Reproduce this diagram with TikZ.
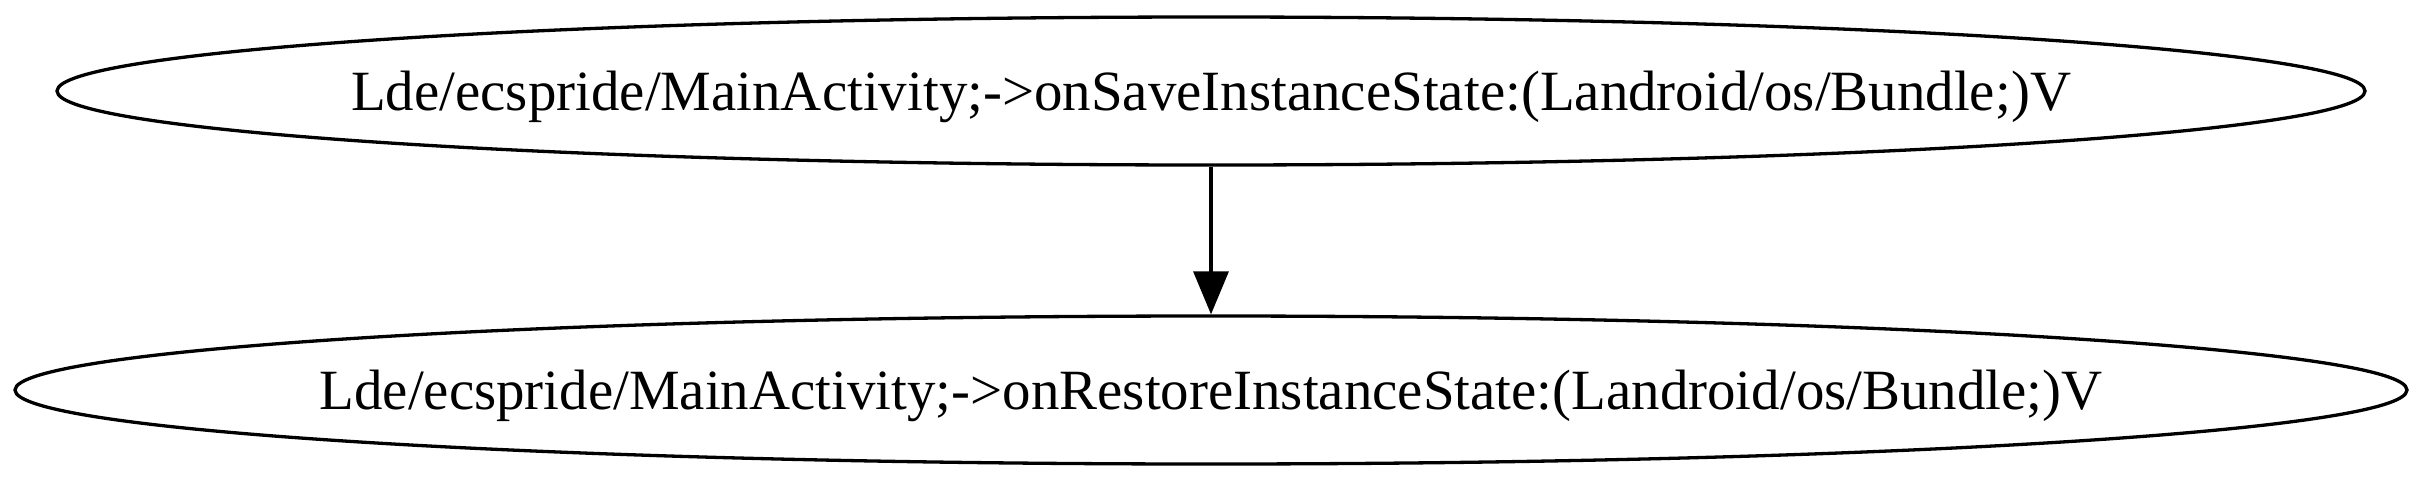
\documentclass[tikz,border=0pt]{standalone}
\usepackage{fontspec}
\setmainfont{Liberation Serif}
\usetikzlibrary{shapes.geometric,arrows.meta}
\tikzset{
  gnode/.style={ellipse, draw=black, line width=3.3pt, inner sep=0pt,
    minimum height=148pt},
  gtext/.style={inner sep=0pt, font=\fontsize{56.9pt}{60pt}\selectfont,
    text height=40pt, text depth=2pt},
  gedge/.style={line width=3.3pt, -{Triangle[width=35pt,length=43pt]}}
}
\begin{document}
\begin{tikzpicture}[x=1pt,y=-1pt]
\useasboundingbox (0,0) rectangle (2422,483);
\node[gnode, minimum width=2308pt,
  label={[gtext]center:Lde/ecspride/MainActivity;->onSaveInstanceState:(Landroid/os/Bundle;)V}]
  (save) at (1211,91) {};
\node[gnode, minimum width=2392pt,
  label={[gtext]center:Lde/ecspride/MainActivity;->onRestoreInstanceState:(Landroid/os/Bundle;)V}]
  (restore) at (1211,390) {};
\draw[gedge] (save) -- (restore);
\end{tikzpicture}
\end{document}
